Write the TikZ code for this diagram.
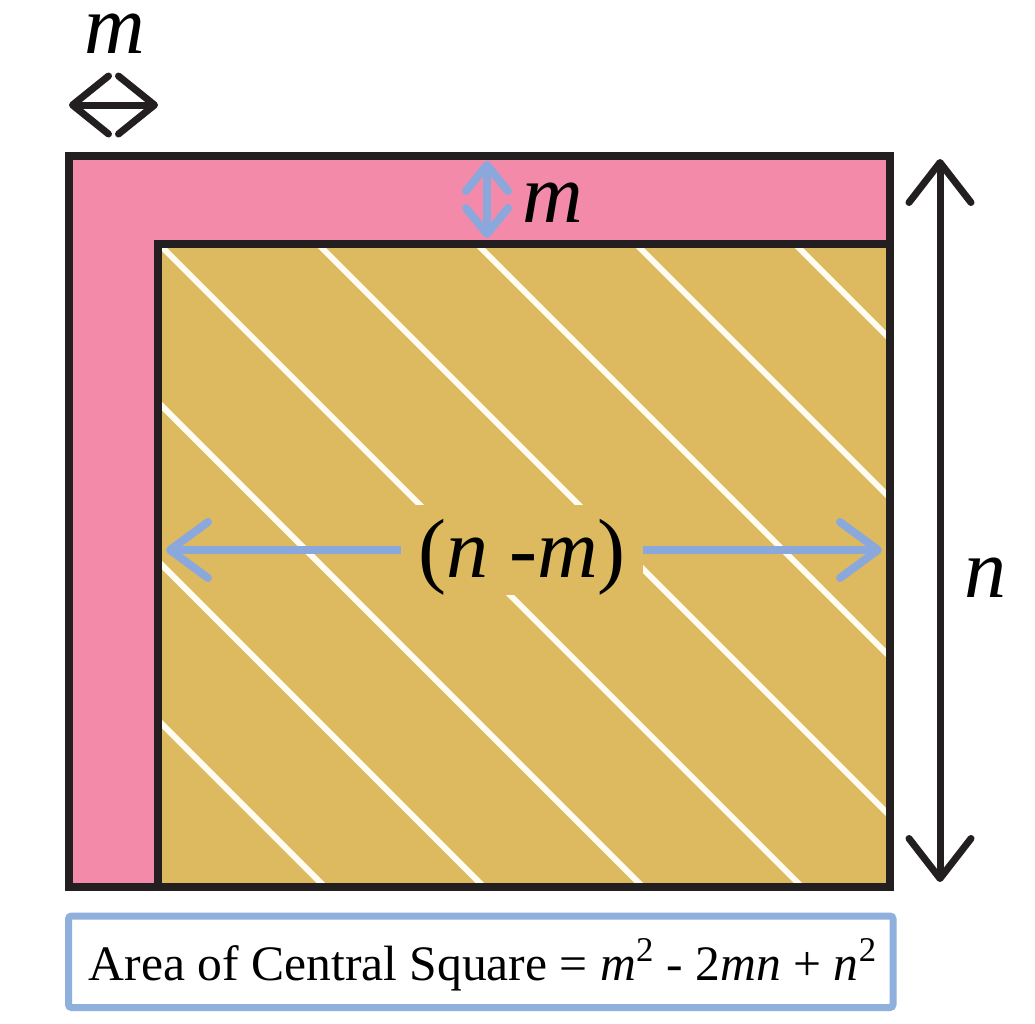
\documentclass[tikz,border=0pt]{standalone}
\usepackage{fontspec}
\setmainfont{Liberation Serif}
\usetikzlibrary{arrows.meta}
\definecolor{pinkc}{HTML}{F48AAA}
\definecolor{goldc}{HTML}{DDB960}
\definecolor{edgec}{HTML}{231F20}
\definecolor{bluec}{HTML}{8BA8DC}
\definecolor{boxc}{HTML}{8FB0DC}
\definecolor{stripec}{HTML}{FFFDF2}
\begin{document}
\begin{tikzpicture}[x=0.5pt,y=-0.5pt,
  edgeline/.style={draw=edgec,line width=3.75pt,line join=miter},
  stripeline/.style={draw=stripec,line width=3pt},
  blackdim/.style={draw=edgec,line width=3.5pt,line cap=round,
    {Straight Barb[length=18pt,width=29pt,line cap=round,line join=round]}-{Straight Barb[length=18pt,width=29pt,line cap=round,line join=round]}},
  ndim/.style={draw=edgec,line width=3.5pt,line cap=round,
    {Straight Barb[length=20pt,width=31pt,line cap=round,line join=round]}-{Straight Barb[length=20pt,width=31pt,line cap=round,line join=round]}},
  bluedim/.style={draw=bluec,line width=4pt,line cap=round,
    {Straight Barb[length=13pt,width=21pt,line cap=round,line join=round]}-{Straight Barb[length=13pt,width=21pt,line cap=round,line join=round]}},
  bluehalf/.style={draw=bluec,line width=4pt,line cap=butt,
    -{Straight Barb[length=19pt,width=28pt,line cap=round,line join=round]}},
  biglab/.style={inner sep=0pt,anchor=base,font=\fontsize{42}{50}\selectfont},
  boxtext/.style={inner sep=0pt,anchor=base,font=\fontsize{24.8}{30}\selectfont}
]
\fill[white] (0,0) rectangle (1035,1024);
\useasboundingbox (0,0) rectangle (1035,1024);

% regions
\fill[pinkc] (69,156) rectangle (890,887);
\fill[goldc] (158,244) rectangle (890,887);
\begin{scope}
  \clip (158,244) rectangle (890,887);
  \foreach \c in {562,403,244,85,-74,-233,-392,-551}
    \draw[stripeline] (100,100+\c) -- (1000,1000+\c);
\end{scope}
\draw[edgeline] (158,887) -- (158,244) -- (890,244);
\draw[edgeline] (69,156) rectangle (890,887);

% central label with mask
\node[fill=goldc,minimum width=121pt,minimum height=45pt,inner sep=0pt] (nm) at (522,550) {};
\node[biglab] (nmtext) at (522,577) {(\textit{n} -\textit{m})};
\coordinate (hl) at (166,550);
\coordinate (hr) at (882,550);
\draw[bluehalf] (nm.west) -- (hl);
\draw[bluehalf] (nm.east) -- (hr);

% top m dimension
\coordinate (tl) at (69,105);
\coordinate (tr) at (158,105);
\draw[blackdim] (tl) -- (tr);
\node[biglab,text height=0.5em,text depth=0pt] (mtop) at (114.5,53) {\textit{m}};

% blue m dimension
\coordinate (bt) at (487,161);
\coordinate (bb) at (487,238);
\draw[bluedim] (bt) -- (bb);
\node[biglab] (mright) at (553,222) {\textit{m}};

% n dimension
\coordinate (nt) at (940,159);
\coordinate (nb) at (940,882);
\draw[ndim] (nt) -- (nb);
\node[biglab] (nlab) at (985,597) {\textit{n}};

% formula box
\node[draw=boxc,line width=3.5pt,fill=white,rounded corners=1.5pt,
  minimum width=412.25pt,minimum height=45.75pt,inner sep=0pt] (box) at (480.75,961.75) {};
\node[boxtext] (formula) at (483,980) {Area of Central Square = \textit{m}\textsuperscript{2} - 2\textit{mn} + \textit{n}\textsuperscript{2}};
\end{tikzpicture}
\end{document}
